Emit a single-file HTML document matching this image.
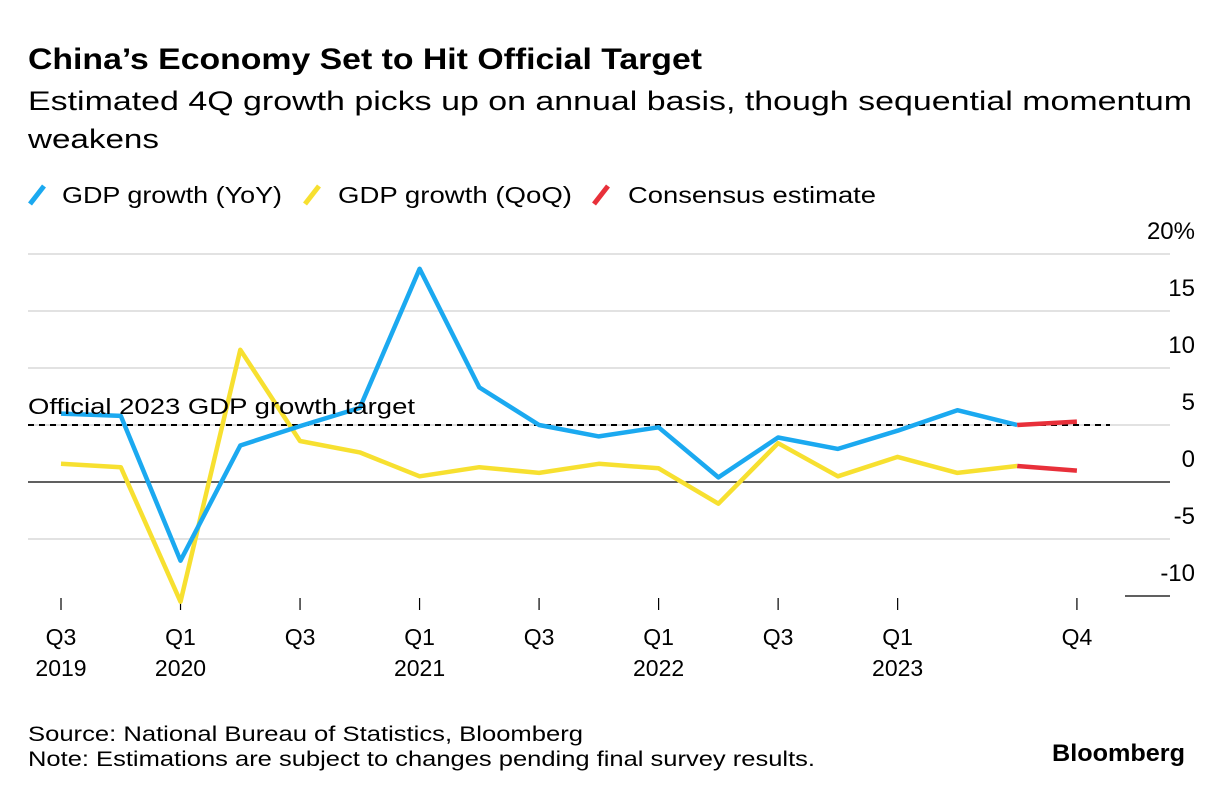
<!DOCTYPE html>
<html><head><meta charset="utf-8"><style>
body{margin:0;background:#fff;font-family:"Liberation Sans",sans-serif;color:#000}
svg text{font-family:"Liberation Sans",sans-serif}
</style></head><body>
<svg id="chart" width="1222" height="796" viewBox="0 0 1222 796" xmlns="http://www.w3.org/2000/svg">
<text x="28" y="69" font-size="30" font-weight="bold" textLength="674" lengthAdjust="spacingAndGlyphs">China’s Economy Set to Hit Official Target</text>
<text x="28" y="110" font-size="27" textLength="1164" lengthAdjust="spacingAndGlyphs">Estimated 4Q growth picks up on annual basis, though sequential momentum</text>
<text x="28" y="148" font-size="27" textLength="131" lengthAdjust="spacingAndGlyphs">weakens</text>
<g>
<line x1="30" y1="204" x2="44" y2="186" stroke="#1ba9f0" stroke-width="5"/>
<text x="62" y="203" font-size="23" textLength="220" lengthAdjust="spacingAndGlyphs">GDP growth (YoY)</text>
<line x1="305" y1="204" x2="319" y2="186" stroke="#f7e030" stroke-width="5"/>
<text x="338" y="203" font-size="23" textLength="234" lengthAdjust="spacingAndGlyphs">GDP growth (QoQ)</text>
<line x1="594" y1="204" x2="608" y2="186" stroke="#e8303a" stroke-width="5"/>
<text x="628" y="203" font-size="23" textLength="248" lengthAdjust="spacingAndGlyphs">Consensus estimate</text>
</g>
<g id="grid"></g><g id="xaxis"></g><g id="series"></g>
<text x="28" y="414" font-size="22" textLength="387" lengthAdjust="spacingAndGlyphs">Official 2023 GDP growth target</text>
<text x="28" y="741" font-size="21" textLength="555" lengthAdjust="spacingAndGlyphs">Source: National Bureau of Statistics, Bloomberg</text>
<text x="28" y="766" font-size="21" textLength="787" lengthAdjust="spacingAndGlyphs">Note: Estimations are subject to changes pending final survey results.</text>
<text x="1052" y="761" font-size="24" font-weight="bold" textLength="133" lengthAdjust="spacingAndGlyphs">Bloomberg</text>
</svg>
<script>
const yoy = [6.0, 5.8, -6.9, 3.2, 4.9, 6.5, 18.7, 8.3, 5.0, 4.0, 4.8, 0.4, 3.9, 2.9, 4.5, 6.3, 5.0];
const qoq = [1.6, 1.3, -10.5, 11.6, 3.6, 2.6, 0.5, 1.3, 0.8, 1.6, 1.2, -1.9, 3.4, 0.5, 2.2, 0.8, 1.4];
const consensusYoy = [5.0, 5.3];
const consensusQoq = [1.4, 1.0];
const yTicks = [20, 15, 10, 5, 0, -5, -10];
const yTickLabels = ["20%", "15", "10", "5", "0", "-5", "-10"];
const xTickIdx = [0, 2, 4, 6, 8, 10, 12, 14, 17];
const xTickTop = ["Q3", "Q1", "Q3", "Q1", "Q3", "Q1", "Q3", "Q1", "Q4"];
const xTickBottom = ["2019", "2020", "", "2021", "", "2022", "", "2023", ""];
const target = 5;

const NS = "http://www.w3.org/2000/svg";
const xs = i => 61 + i * 59.76;
const ys = v => 482 - v * 11.4;
function mk(tag, attrs, parent){const e=document.createElementNS(NS,tag);for(const k in attrs)e.setAttribute(k,attrs[k]);document.getElementById(parent).appendChild(e);return e;}

yTicks.forEach((t,i)=>{
  const y=ys(t);
  const x1 = t===-10 ? 1125 : 28;
  const dark = t===0 || t===-10;
  const l=mk("line",{x1:x1,x2:1170,y1:y,y2:y,stroke:dark?"#000":"#d9d9d9","stroke-width":dark?1.2:1.5},"grid");
  
  
  const tx=mk("text",{x:1195,y:y-15,"font-size":24,"text-anchor":"end"},"grid");
  tx.textContent=yTickLabels[i];
  
  
});
const tl=mk("line",{x1:28,x2:1110,y1:ys(target),y2:ys(target),stroke:"#000","stroke-width":2,"stroke-dasharray":"6,5"},"series");



xTickIdx.forEach((q,i)=>{
  const x=xs(q);
  const t=mk("line",{x1:x,x2:x,y1:598,y2:610,stroke:"#000","stroke-width":1.2},"xaxis");
  
  
  const a=mk("text",{x:x,y:645,"font-size":23,"text-anchor":"middle"},"xaxis");
  a.textContent=xTickTop[i];
  
  
  if(xTickBottom[i]){
    const b=mk("text",{x:x,y:676,"font-size":23,"text-anchor":"middle"},"xaxis");
    b.textContent=xTickBottom[i];
    
    
  }
});

function line(vals, start, color, name){
  const d=vals.map((v,i)=>(i?"L":"M")+xs(start+i).toFixed(1)+","+ys(v).toFixed(1)).join(" ");
  const p=mk("path",{d:d,fill:"none",stroke:color,"stroke-width":4.5,"stroke-linejoin":"round"},"series");
  
  
}
line(qoq,0,"#f7e030","qoq-line");
line(yoy,0,"#1ba9f0","yoy-line");
line(consensusYoy,16,"#e8303a","consensus-yoy-line");
line(consensusQoq,16,"#e8303a","consensus-qoq-line");
</script>
</body></html>
